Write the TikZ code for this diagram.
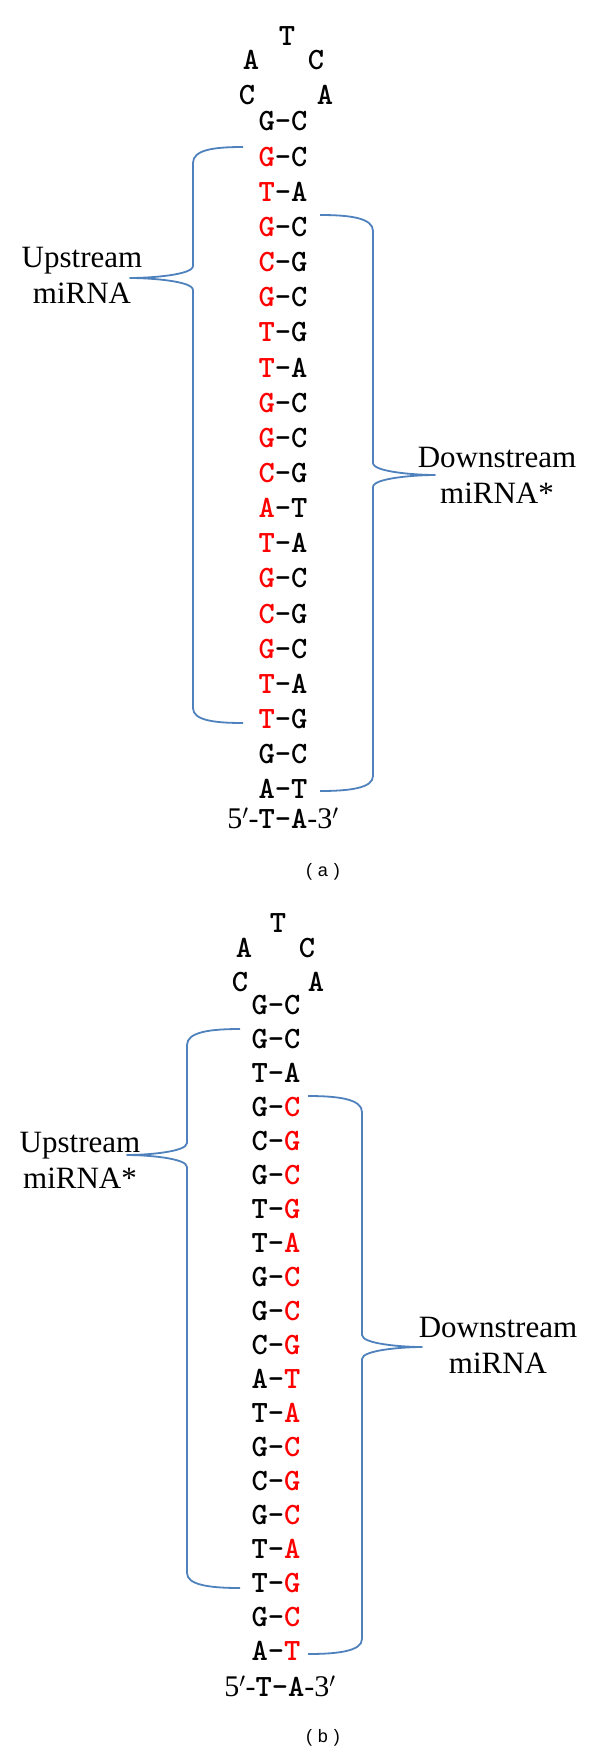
\documentclass[tikz,border=0pt]{standalone}
\usepackage{fontspec}
\setmainfont{Liberation Serif}
\newfontfamily\capfont{Liberation Sans}
\definecolor{bracecol}{HTML}{4F81BD}
\tikzset{
  base/.style={font=\ttfamily\bfseries\fontsize{31}{31}\selectfont,
    inner sep=0pt, text height=18pt, text depth=0pt},
  lab/.style={font=\fontsize{31}{36}\selectfont, align=center, inner sep=0pt},
  tail/.style={font=\fontsize{30}{30}\selectfont, inner sep=0pt},
  subcap/.style={font=\capfont\fontsize{18}{18}\selectfont, inner sep=0pt},
  brace/.style={draw=bracecol, line width=1.8pt, line join=round}
}
\newcommand{\mono}[1]{{\ttfamily\bfseries\fontsize{31}{31}\selectfont #1}}
\begin{document}
\begin{tikzpicture}[x=1pt,y=-1pt]
  \useasboundingbox (0,0) rectangle (600,1755);

  % (a) loop
  \node[base] (aT1) at (287,37) {T};
  \node[base] (aA1) at (251,61) {A};
  \node[base] (aC1) at (316,61) {C};
  \node[base] (aC2) at (247,96) {C};
  \node[base] (aA2) at (325,96) {A};
  % (a) stem, upstream strand red
  \foreach \l/\r [count=\i] in {G/C,G/C,T/A,G/C,C/G,G/C,T/G,T/A,G/C,G/C,
                                C/G,A/T,T/A,G/C,C/G,G/C,T/A,T/G,G/C,A/T} {
    \ifnum\i>1 \ifnum\i<19 \def\lc{red}\else\def\lc{black}\fi\else\def\lc{black}\fi
    \node[base] (a\i) at (283,{122+(\i-1)*35.15}) {\textcolor{\lc}{\l}-\r};
  }
  \node[tail] (aend) at (283,818) {5$'$-\mono{T-A}-3$'$};
  \node[subcap] (acap) at (323,872) {(\,\,a\,\,)};

  \node[lab] (aup) at (82,275) {Upstream\\miRNA};
  \node[lab] (adown) at (497,475) {Downstream\\miRNA*};

  \coordinate (aUtop) at (243,147);
  \coordinate (aUtip) at (130,278);
  \coordinate (aUbot) at (243,723);
  \draw[brace] (aUtop) .. controls (213,147) and (193,150) .. (193,163) -- (193,266)
    .. controls (193,275) and (150,278) .. (aUtip)
    .. controls (150,278) and (193,281) .. (193,290) -- (193,708)
    .. controls (193,720) and (213,723) .. (aUbot);

  \coordinate (aDtop) at (320,215);
  \coordinate (aDtip) at (435,475);
  \coordinate (aDbot) at (320,791);
  \draw[brace] (aDtop) .. controls (350,215) and (373,218) .. (373,231) -- (373,463)
    .. controls (373,472) and (416,475) .. (aDtip)
    .. controls (416,475) and (373,478) .. (373,487) -- (373,776)
    .. controls (373,788) and (350,791) .. (aDbot);

  % (b) loop
  \node[base] (bT1) at (278,923) {T};
  \node[base] (bA1) at (244,948) {A};
  \node[base] (bC1) at (307,948) {C};
  \node[base] (bC2) at (240,982) {C};
  \node[base] (bA2) at (316,982) {A};
  % (b) stem, downstream strand red
  \foreach \l/\r [count=\i] in {G/C,G/C,T/A,G/C,C/G,G/C,T/G,T/A,G/C,G/C,
                                C/G,A/T,T/A,G/C,C/G,G/C,T/A,T/G,G/C,A/T} {
    \ifnum\i>3 \def\rc{red}\else\def\rc{black}\fi
    \node[base] (b\i) at (276,{1005+(\i-1)*34.0}) {\l-\textcolor{\rc}{\r}};
  }
  \node[tail] (bend) at (280,1686) {5$'$-\mono{T-A}-3$'$};
  \node[subcap] (bcap) at (323,1738) {(\,\,b\,\,)};

  \node[lab] (bup) at (80,1160) {Upstream\\miRNA*};
  \node[lab] (bdown) at (498,1345) {Downstream\\miRNA};

  \coordinate (bUtop) at (240,1029);
  \coordinate (bUtip) at (127,1155);
  \coordinate (bUbot) at (240,1588);
  \draw[brace] (bUtop) .. controls (210,1029) and (187,1032) .. (187,1045) -- (187,1143)
    .. controls (187,1152) and (146,1155) .. (bUtip)
    .. controls (146,1155) and (187,1158) .. (187,1167) -- (187,1573)
    .. controls (187,1585) and (210,1588) .. (bUbot);

  \coordinate (bDtop) at (308,1096);
  \coordinate (bDtip) at (422,1347);
  \coordinate (bDbot) at (308,1654);
  \draw[brace] (bDtop) .. controls (338,1096) and (362,1099) .. (362,1112) -- (362,1335)
    .. controls (362,1344) and (403,1347) .. (bDtip)
    .. controls (403,1347) and (362,1350) .. (362,1359) -- (362,1639)
    .. controls (362,1651) and (338,1654) .. (bDbot);
\end{tikzpicture}
\end{document}
